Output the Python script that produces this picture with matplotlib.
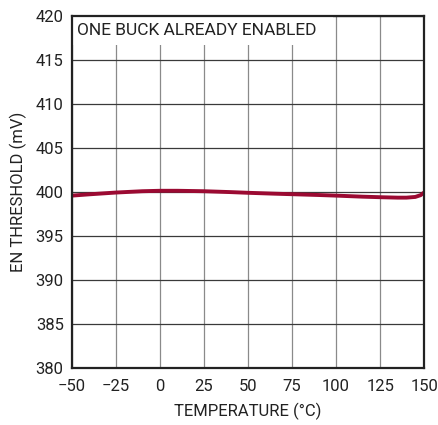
import matplotlib
matplotlib.use("Agg")
import matplotlib.pyplot as plt
from matplotlib.patches import Rectangle
import numpy as np

plt.rcParams['font.family'] = ['Roboto', 'DejaVu Sans']

temp = [-50, -40, -25, -10, 0, 10, 25, 40, 50, 65, 75, 90, 100, 115, 125, 135, 140, 145, 148, 150]
thresh = [399.6, 399.75, 399.95, 400.1, 400.15, 400.15, 400.1, 400.0, 399.92, 399.82, 399.76, 399.67, 399.6, 399.48, 399.42, 399.37, 399.37, 399.45, 399.65, 399.95]

fig = plt.figure(figsize=(4.39, 4.25), dpi=100)
ax = fig.add_axes([0.164, 0.134, 0.802, 0.828])

ax.plot(temp, thresh, color='#9b0a32', lw=2.8, zorder=4, solid_capstyle='butt')

ax.set_xlim(-50, 150)
ax.set_ylim(380, 420)
ax.set_xticks(np.arange(-50, 151, 25))
ax.set_yticks(np.arange(380, 421, 5))
ax.set_xticklabels(['\u221250', '\u221225', '0', '25', '50', '75', '100', '125', '150'])
ax.tick_params(axis='x', length=0, labelsize=12, colors='#222222', pad=8)
ax.tick_params(axis='y', length=0, labelsize=12, colors='#222222', pad=6)
ax.xaxis.grid(True, color='#8a8a8a', lw=0.9)
ax.yaxis.grid(True, color='#3a3a3a', lw=0.9)
ax.set_axisbelow(True)
for s in ax.spines.values():
    s.set_color('#222222')
    s.set_linewidth(1.6)
    s.set_zorder(6)

ax.add_patch(Rectangle((0, 0.918), 0.742, 0.082, transform=ax.transAxes,
                       facecolor='white', edgecolor='none', zorder=3))
ax.text(0.015, 0.96, 'ONE BUCK ALREADY ENABLED', transform=ax.transAxes,
        fontsize=12.5, va='center', ha='left', color='#222222', zorder=5)

ax.set_xlabel('TEMPERATURE (\u00b0C)', fontsize=12, color='#222222', labelpad=6)
ax.set_ylabel('EN THRESHOLD (mV)', fontsize=12, color='#222222', labelpad=6)

fig.savefig('out.png', dpi=100)
